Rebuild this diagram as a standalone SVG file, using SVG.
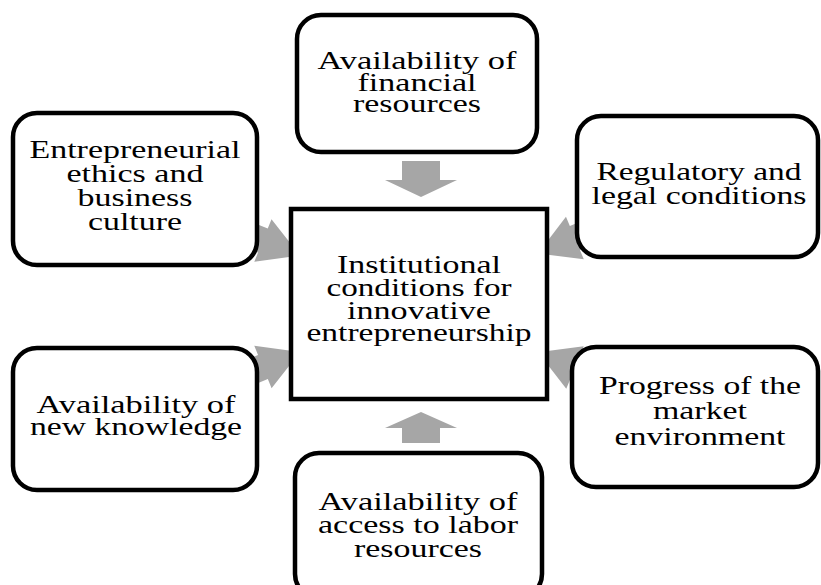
<svg xmlns="http://www.w3.org/2000/svg" width="821" height="585" viewBox="0 0 821 585">
<style>
.box{fill:#fff;stroke:#000;stroke-width:4.5}
.arr{fill:#a6a6a6;stroke:none}
text{font-family:"Liberation Serif","Times New Roman",serif;font-size:25px;fill:#000;text-anchor:middle}
</style>
<defs>
<polygon id="diag" points="0,0 -40,-23 -40,-13 -90,-13 -90,13 -40,13 -40,23"/>
</defs>
<rect width="821" height="585" fill="#fff"/>
<g id="connectors" class="arr">
<polygon points="402,161 440,161 440,180 457,180 421,197 385,180 402,180"/>
<polygon points="402,443 440,443 440,428 457,428 421,412 385,428 402,428"/>
<use href="#diag" transform="translate(300,255.5) rotate(21.96)"/>
<use href="#diag" transform="translate(538,253.5) rotate(157.2)"/>
<use href="#diag" transform="translate(300,352) rotate(-22.1)"/>
<use href="#diag" transform="translate(538,352.3) rotate(202.3)"/>
</g>
<g id="node-financial">
<rect class="box" x="297" y="15" width="240" height="137" rx="24"/>
<text x="417" y="69" textLength="199" lengthAdjust="spacingAndGlyphs">Availability of</text>
<text x="417" y="91" textLength="119" lengthAdjust="spacingAndGlyphs">financial</text>
<text x="417" y="112" textLength="128" lengthAdjust="spacingAndGlyphs">resources</text>
</g>
<g id="node-ethics">
<rect class="box" x="13" y="113" width="244" height="152" rx="24"/>
<text x="135" y="158" textLength="211" lengthAdjust="spacingAndGlyphs">Entrepreneurial</text>
<text x="135" y="182" textLength="137" lengthAdjust="spacingAndGlyphs">ethics and</text>
<text x="135" y="206" textLength="115" lengthAdjust="spacingAndGlyphs">business</text>
<text x="135" y="230" textLength="94" lengthAdjust="spacingAndGlyphs">culture</text>
</g>
<g id="node-regulatory">
<rect class="box" x="577" y="116" width="241" height="141" rx="24"/>
<text x="699" y="180" textLength="205" lengthAdjust="spacingAndGlyphs">Regulatory and</text>
<text x="699" y="204" textLength="215" lengthAdjust="spacingAndGlyphs">legal conditions</text>
</g>
<g id="node-center">
<rect class="box" x="291" y="209" width="256" height="190"/>
<text x="419" y="273" textLength="164" lengthAdjust="spacingAndGlyphs">Institutional</text>
<text x="419" y="296" textLength="185" lengthAdjust="spacingAndGlyphs">conditions for</text>
<text x="419" y="319" textLength="144" lengthAdjust="spacingAndGlyphs">innovative</text>
<text x="419" y="341" textLength="225" lengthAdjust="spacingAndGlyphs">entrepreneurship</text>
</g>
<g id="node-knowledge">
<rect class="box" x="13" y="348" width="244" height="142" rx="24"/>
<text x="136" y="413" textLength="199" lengthAdjust="spacingAndGlyphs">Availability of</text>
<text x="136" y="435" textLength="212" lengthAdjust="spacingAndGlyphs">new knowledge</text>
</g>
<g id="node-market">
<rect class="box" x="572" y="347" width="246" height="140" rx="24"/>
<text x="700" y="394" textLength="202" lengthAdjust="spacingAndGlyphs">Progress of the</text>
<text x="700" y="419" textLength="94" lengthAdjust="spacingAndGlyphs">market</text>
<text x="700" y="445" textLength="171" lengthAdjust="spacingAndGlyphs">environment</text>
</g>
<g id="node-labor">
<rect class="box" x="295" y="453" width="247" height="145" rx="24"/>
<text x="418" y="510" textLength="199" lengthAdjust="spacingAndGlyphs">Availability of</text>
<text x="418" y="533" textLength="200" lengthAdjust="spacingAndGlyphs">access to labor</text>
<text x="418" y="557" textLength="128" lengthAdjust="spacingAndGlyphs">resources</text>
</g>
</svg>
